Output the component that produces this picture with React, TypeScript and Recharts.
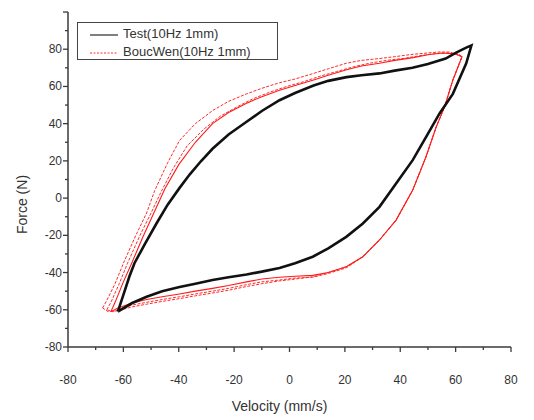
import { LineChart, Line, XAxis, YAxis, Legend, Label } from "recharts";

// Test (measured) loop, black
const testX = [-62, -60, -57.8, -56, -52, -48, -44, -39.7, -36, -32, -27.8, -22, -15.5, -10, -3.6, 2, 8.7, 14, 20.6, 26, 32.5, 38, 44.4, 50, 56.4, 60, 62, 64, 65.7, 63.8, 59, 54.2, 49.4, 44.5, 38.5, 32.5, 26.5, 20.5, 14, 8.4, 2, -3.6, -10, -15.5, -22, -27.8, -34, -39.7, -46, -51.6, -57, -62];
const testY = [-61, -52, -42, -35, -24, -13.5, -3.5, 5.5, 12.8, 19.8, 26.5, 34.2, 41, 46.8, 52.6, 56.5, 60.5, 63, 65, 66, 67, 68.5, 70, 72, 75, 78, 79.5, 81, 82, 72.3, 56, 45.5, 33, 20.4, 7.9, -4.7, -13.6, -20.8, -27, -31.5, -35, -37.5, -39.5, -41, -42.5, -44, -46, -47.8, -50, -53, -56.5, -61];

// BoucWen model, outer cycle
const bwOuterX = [-67.5, -66, -63, -60, -55.5, -51.6, -48.7, -44, -39.7, -34, -27.8, -22, -15.5, -10, -3.6, 2, 8.7, 14, 20.6, 26, 32.5, 38, 44.7, 50, 54, 58, 62.3, 59, 56, 53, 49.3, 44.5, 38.5, 32.5, 26.5, 20.5, 14, 8.4, 2, -3.6, -10, -15.5, -22, -27.8, -34, -39.7, -46, -51.6, -57, -62, -65.5, -67.5];
const bwOuterY = [-59, -55, -46, -35, -20, -8, 4, 19, 31, 40, 47, 52, 56, 59, 62, 64, 67, 69.5, 72.5, 74, 75, 76, 77.3, 78, 78.5, 78.5, 76, 63.4, 49, 38.3, 22.2, 4.3, -11.8, -22.5, -31.5, -36.9, -40, -42.3, -43.5, -44.5, -46, -47.5, -49.5, -51, -52.5, -54, -55.5, -57, -58.5, -60.5, -61, -59];

// BoucWen model, middle cycle
const bwMidX = [-66, -64.5, -61.5, -58.5, -54, -50, -46.5, -42, -37, -31, -25, -19, -13, -7, -1, 5, 11, 17, 23, 29, 35, 41, 47, 52, 57, 61, 62.3, 59, 56, 53, 49.3, 44.5, 38.5, 32.5, 26.5, 20.5, 14, 8.4, 2, -3.6, -10, -15.5, -22, -27.8, -34, -39.7, -46, -51.6, -57, -61, -64, -66];
const bwMidY = [-60, -56, -46, -35, -20, -8, 3, 16, 28, 37, 44, 49, 53.5, 57, 60, 62.5, 65.5, 68, 70.5, 72.5, 74, 75, 76.5, 77.5, 78, 77.5, 76, 63.4, 49, 38.3, 22.2, 4.3, -11.8, -22.5, -31.5, -37.5, -40.5, -42.5, -43, -44, -45, -46.5, -48.5, -50, -51.5, -53, -54.5, -56, -57.5, -59.5, -61, -60];

// BoucWen model, inner cycle
const bwInnerX = [-64.5, -63, -60, -57, -53, -49, -45, -40, -34, -27.8, -22, -15.5, -10, -3.6, 2, 8.7, 14, 20.6, 26, 32.5, 38, 44.7, 50, 55, 60, 62.3, 59, 56, 53, 49.3, 44.5, 38.5, 32.5, 26.5, 20.5, 14, 8.4, 2, -3.6, -10, -15.5, -22, -27.8, -34, -39.7, -46, -51.6, -57, -62, -64.5];
const bwInnerY = [-61, -56, -45, -35, -21, -8, 5, 18, 30, 40, 46, 51, 54.5, 58, 60.5, 63.5, 66, 69, 71, 72.5, 74, 75.5, 77, 78, 77.5, 76, 63.4, 49, 38.3, 22.2, 4.3, -11.8, -22.5, -31.5, -36.9, -40, -41.5, -42, -42.5, -43.5, -45, -47, -48.5, -50, -51.5, -53, -54.5, -56.5, -59, -61];

const xTicks = [-80, -70, -60, -50, -40, -30, -20, -10, 0, 10, 20, 30, 40, 50, 60, 70, 80];
const yTicks = [-80, -70, -60, -50, -40, -30, -20, -10, 0, 10, 20, 30, 40, 50, 60, 70, 80, 90, 100];
const yLabelled = [-80, -60, -40, -20, 0, 20, 40, 60, 80];

const toRows = (xs: number[], ys: number[]) => xs.map((x, i) => ({ x, y: ys[i] }));

const testData = toRows(testX, testY);
const bwOuter = toRows(bwOuterX, bwOuterY);
const bwMid = toRows(bwMidX, bwMidY);
const bwInner = toRows(bwInnerX, bwInnerY);

const FONT = "'Liberation Sans', Arial, sans-serif";
const AXIS = "#3a3a3a";
const TXT = "#333";

const XTick = (props: any) => {
  const { x, y, payload } = props;
  const v = payload.value;
  const major = v % 20 === 0;
  return (
    <g>
      <line x1={x} x2={x} y1={y} y2={y + (major ? 5 : 3)} stroke={AXIS} strokeWidth={1.3} />
      {major && (
        <text x={x} y={y + 37} textAnchor="middle" fontSize={12} fontFamily={FONT} fill={TXT}>
          {v}
        </text>
      )}
    </g>
  );
};

const YTick = (props: any) => {
  const { x, y, payload } = props;
  const v = payload.value;
  const major = v % 20 === 0;
  return (
    <g>
      <line x1={x} x2={x - (major ? 5 : 3)} y1={y} y2={y} stroke={AXIS} strokeWidth={1.3} />
      {yLabelled.includes(v) && (
        <text x={x - 6} y={y + 4} textAnchor="end" fontSize={12} fontFamily={FONT} fill={TXT}>
          {v}
        </text>
      )}
    </g>
  );
};

const LegendBox = () => (
  <div
    style={{
      width: 201,
      height: 38,
      border: "1.5px solid #444",
      fontFamily: FONT,
      fontSize: 13,
      color: TXT,
      boxSizing: "border-box",
      position: "relative",
    }}
  >
    <svg width={40} height={38} style={{ position: "absolute", left: 0, top: 0 }}>
      <line x1={12} x2={46} y1={12} y2={12} stroke="#555" strokeWidth={1.5} />
      <line x1={12} x2={46} y1={30} y2={30} stroke="#f33" strokeWidth={1} strokeDasharray="2 1.5" />
    </svg>
    <div style={{ position: "absolute", left: 45, top: 3, lineHeight: "16px" }}>Test(10Hz 1mm)</div>
    <div style={{ position: "absolute", left: 45, top: 21, lineHeight: "16px" }}>BoucWen(10Hz 1mm)</div>
  </div>
);

export default function App() {
  return (
    <div style={{ position: "absolute", left: 0, top: 0 }}>
      <LineChart
        width={534}
        height={420}
        margin={{ top: 12, right: 23, bottom: 0, left: 0 }}
      >
        <XAxis
          dataKey="x"
          type="number"
          domain={[-80, 80]}
          ticks={xTicks}
          interval={0}
          height={73}
          tickSize={0}
          tickMargin={0}
          tickLine={false}
          tick={<XTick />}
          axisLine={{ stroke: AXIS, strokeWidth: 1.5 }}
        >
          <Label
            content={({ viewBox }: any) => (
              <text
                x={viewBox.x + viewBox.width / 2 - 10}
                y={viewBox.y + 64}
                textAnchor="middle"
                fontSize={14}
                fontFamily={FONT}
                fill={TXT}
              >
                Velocity (mm/s)
              </text>
            )}
          />
        </XAxis>
        <YAxis
          dataKey="y"
          type="number"
          domain={[-80, 100]}
          ticks={yTicks}
          interval={0}
          width={68}
          tickSize={0}
          tickMargin={0}
          tickLine={false}
          tick={<YTick />}
          axisLine={{ stroke: AXIS, strokeWidth: 1.5 }}
        >
          <Label
            content={({ viewBox }: any) => {
              const cx = viewBox.x + 22;
              const cy = viewBox.y + viewBox.height / 2 + 25;
              return (
                <text
                  x={cx}
                  y={cy}
                  transform={`rotate(-90 ${cx} ${cy})`}
                  textAnchor="middle"
                  dominantBaseline="central"
                  fontSize={14}
                  fontFamily={FONT}
                  fill={TXT}
                >
                  Force (N)
                </text>
              );
            }}
          />
        </YAxis>
        <Legend
          layout="vertical"
          align="center"
          verticalAlign="middle"
          content={<LegendBox />}
          wrapperStyle={{ left: 77, top: 22, width: 201, height: 38 }}
        />
        <Line data={bwOuter} dataKey="y" type="linear" stroke="#ff2a2a" strokeWidth={1} strokeDasharray="3 1.5" dot={false} isAnimationActive={false} />
        <Line data={bwMid} dataKey="y" type="linear" stroke="#ff2a2a" strokeWidth={1} strokeDasharray="3 1.5" dot={false} isAnimationActive={false} />
        <Line data={bwInner} dataKey="y" type="linear" stroke="#ff1a1a" strokeWidth={1.1} dot={false} isAnimationActive={false} />
        <Line data={testData} dataKey="y" type="linear" stroke="#111" strokeWidth={2.6} dot={false} isAnimationActive={false} />
      </LineChart>
    </div>
  );
}
